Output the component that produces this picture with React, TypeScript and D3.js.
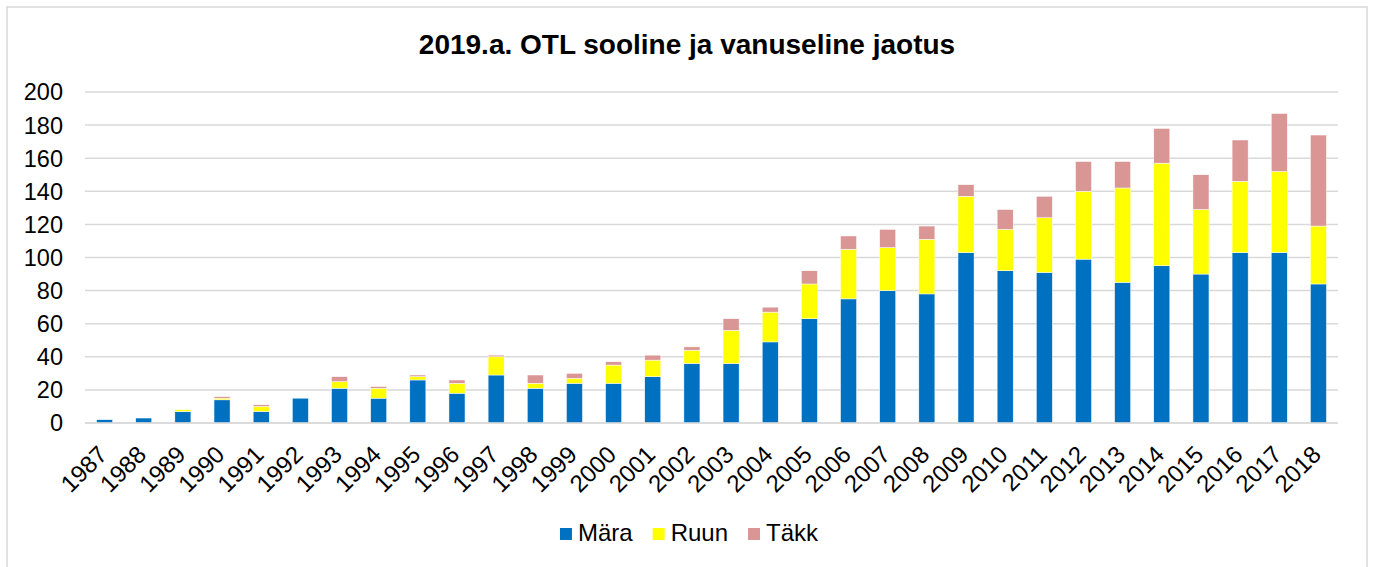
import React from "react";
import * as d3 from "d3";

const years = ["1987","1988","1989","1990","1991","1992","1993","1994","1995","1996","1997","1998","1999","2000","2001","2002","2003","2004","2005","2006","2007","2008","2009","2010","2011","2012","2013","2014","2015","2016","2017","2018"];
const mara =  [2,3,7,14,7,15,21,15,26,18,29,21,24,24,28,36,36,49,63,75,80,78,103,92,91,99,85,95,90,103,103,84];
const ruun =  [0,0,1,1,3,0,4,6,2,6,11,3,3,11,10,8,20,18,21,30,26,33,34,25,33,41,57,62,39,43,49,35];
const takk =  [0,0,0,1,1,0,3,1,1,2,1,5,3,2,3,2,7,3,8,8,11,8,7,12,13,18,16,21,21,25,35,55];
const seriesNames = ["Mära", "Ruun", "Täkk"];
const seriesColors = ["#0070C0", "#FFFF00", "#DA9694"];
const yTicks = [0, 20, 40, 60, 80, 100, 120, 140, 160, 180, 200];
const title = "2019.a. OTL sooline ja vanuseline jaotus";

const W = 1374, H = 567;
const FONT = "'Liberation Sans', Arial, sans-serif";

function textWidth(t: string, size: number, weight = "normal") {
  const c = document.createElement("canvas").getContext("2d");
  if (!c) return t.length * size * 0.55;
  c.font = `${weight} ${size}px ${FONT}`;
  return c.measureText(t).width;
}

export default function App() {
  const x = d3.scaleBand<string>().domain(years).range([85, 1338]).paddingInner(0.59).paddingOuter(0.295);
  const y = d3.scaleLinear().domain([0, 200]).range([423, 92]);

  const rows = years.map((yr, i) => ({ year: yr, "Mära": mara[i], "Ruun": ruun[i], "Täkk": takk[i] }));
  const stacked = d3.stack<any>().keys(seriesNames)(rows);

  const legFont = 24;
  const sq = 12, gapIn = 6, gapOut = 20;
  const widths = seriesNames.map((n) => textWidth(n, legFont));
  const total = widths.reduce((a, b) => a + b, 0) + seriesNames.length * (sq + gapIn) + gapOut * (seriesNames.length - 1);
  let lx = 689 - total / 2;
  const legendItems = seriesNames.map((n, i) => {
    const item = { name: n, color: seriesColors[i], x: lx, tw: widths[i] };
    lx += sq + gapIn + widths[i] + gapOut;
    return item;
  });

  return (
    <svg width={W} height={H} style={{ position: "absolute", left: 0, top: 0, background: "#fff" }} fontFamily={FONT}>
      <rect x={7} y={7} width={1360} height={600} fill="#fff" stroke="#d9d9d9" strokeWidth={1.5} />
      <text x={687} y={54} textAnchor="middle" fontSize={28} fontWeight="bold" fill="#000">{title}</text>
      {yTicks.map((t) => (
        <g key={t}>
          <line x1={85} x2={1338} y1={y(t)} y2={y(t)} stroke="#d9d9d9" strokeWidth={1.5} />
          <text x={63} y={y(t)} dy="0.36em" textAnchor="end" fontSize={23.5} fill="#000">{t}</text>
        </g>
      ))}
      {stacked.map((s, si) => (
        <g key={s.key} fill={seriesColors[si]}>
          {s.map((d, i) => {
            const h = y(d[0]) - y(d[1]);
            if (h <= 0) return null;
            return <rect key={i} x={x(years[i])} y={y(d[1])} width={x.bandwidth()} height={h} stroke="#fff" strokeWidth={0.5} />;
          })}
        </g>
      ))}
      <line x1={85} x2={1338} y1={y(0)} y2={y(0)} stroke="#d9d9d9" strokeWidth={1.5} />
      {years.map((yr) => {
        const cx = (x(yr) as number) + x.bandwidth() / 2;
        return (
          <text key={yr} transform={`translate(${cx + 4},${456}) rotate(-45)`} textAnchor="end" fontSize={24} fill="#000">{yr}</text>
        );
      })}
      {legendItems.map((it) => (
        <g key={it.name}>
          <rect x={it.x} y={528} width={sq} height={sq} fill={it.color} />
          <text x={it.x + sq + gapIn} y={541} fontSize={legFont} fill="#000">{it.name}</text>
        </g>
      ))}
    </svg>
  );
}
